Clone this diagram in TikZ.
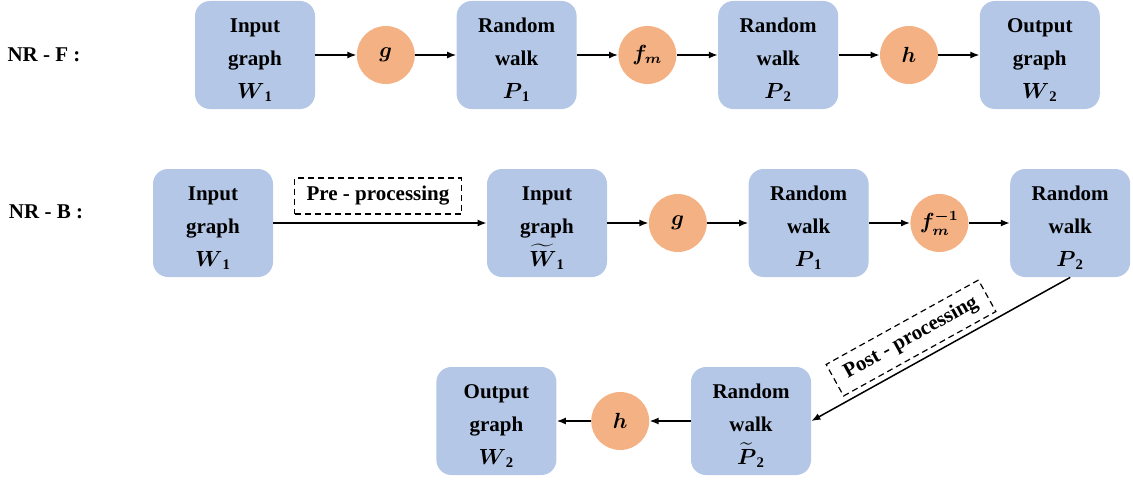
\documentclass[tikz,border=0pt]{standalone}
\usepackage{amsmath}
\usepackage{fontspec}
\setmainfont{Liberation Serif}
\usepackage{xcolor}
\usepackage{tikz}
\usetikzlibrary{arrows.meta, positioning}

\definecolor{boxblue}{HTML}{B4C7E7}
\definecolor{fnorange}{HTML}{F4B183}
\newcommand{\padtop}{\rule{0pt}{12pt}}

\begin{document}
\begin{tikzpicture}[
          x=0.5pt, y=-0.5pt,
          node distance=20.5pt,
          every node/.style={font=\fontsize{10.5}{16.5}\selectfont\bfseries},
          stage/.style={rectangle, rounded corners=7.5pt, fill=boxblue, minimum width=60pt, minimum height=54pt, align=center, inner sep=0pt},
          func/.style={circle, fill=fnorange, minimum size=29pt, inner sep=0pt},
          tag/.style={draw, line width=0.6pt, dash pattern=on 3pt off 2pt, inner xsep=6pt, minimum height=18pt},
          flow/.style={-{Latex[length=4.5pt,width=3.5pt]}, line width=0.75pt}
        ]
          \useasboundingbox (0,0) rectangle (1133,481);

          % NR - F
          \node (labF) at (44,55) {NR - F :};
          \node[stage] (inF) at (255,55) {\padtop Input\\graph\\$\boldsymbol{W}_{\mathbf{1}}$};
          \node[func, right=of inF] (gF) {$\boldsymbol{g}$};
          \node[stage, right=of gF] (pF1) {\padtop Random\\walk\\$\boldsymbol{P}_{\mathbf{1}}$};
          \node[func, right=of pF1] (fF) {$\boldsymbol{f_m}$};
          \node[stage, right=of fF] (pF2) {\padtop Random\\walk\\$\boldsymbol{P}_{\mathbf{2}}$};
          \node[func, right=of pF2] (hF) {$\boldsymbol{h}$};
          \node[stage, right=of hF] (outF) {\padtop Output\\graph\\$\boldsymbol{W}_{\mathbf{2}}$};

          \draw[flow] (inF) -- (gF);
          \draw[flow] (gF) -- (pF1);
          \draw[flow] (pF1) -- (fF);
          \draw[flow] (fF) -- (pF2);
          \draw[flow] (pF2) -- (hF);
          \draw[flow] (hF) -- (outF);

          % NR - B
          \node (labB) at (46,212) {NR - B :};
          \node[stage] (inB) at (213,223) {\padtop Input\\graph\\$\boldsymbol{W}_{\mathbf{1}}$};
          \node[stage] (inBt) at (547,223) {\padtop Input\\graph\\$\widetilde{\boldsymbol{W}}_{\mathbf{1}}$};
          \node[func, right=of inBt] (gB) {$\boldsymbol{g}$};
          \node[stage, right=of gB] (pB1) {\padtop Random\\walk\\$\boldsymbol{P}_{\mathbf{1}}$};
          \node[func, right=of pB1] (fB) {$\boldsymbol{f_m^{-1}}$};
          \node[stage, right=of fB] (pB2) {\padtop Random\\walk\\$\boldsymbol{P}_{\mathbf{2}}$};

          \node[stage] (pB2t) at (751,421) {\padtop Random\\walk\\$\widetilde{\boldsymbol{P}}_{\mathbf{2}}$};
          \node[func, left=of pB2t] (hB) {$\boldsymbol{h}$};
          \node[stage, left=17pt of hB] (outB) {\padtop Output\\graph\\$\boldsymbol{W}_{\mathbf{2}}$};

          \node[tag] (pre) at (378,196) {Pre - processing};
          \node[tag, rotate=29] (post) at (911,338) {Post - processing};

          \draw[flow] (inB) -- (inBt);
          \draw[flow] (inBt) -- (gB);
          \draw[flow] (gB) -- (pB1);
          \draw[flow] (pB1) -- (fB);
          \draw[flow] (fB) -- (pB2);
          \draw[flow] (pB2.south) -- (pB2t.east);
          \draw[flow] (pB2t) -- (hB);
          \draw[flow] (hB) -- (outB);
        \end{tikzpicture}
\end{document}
